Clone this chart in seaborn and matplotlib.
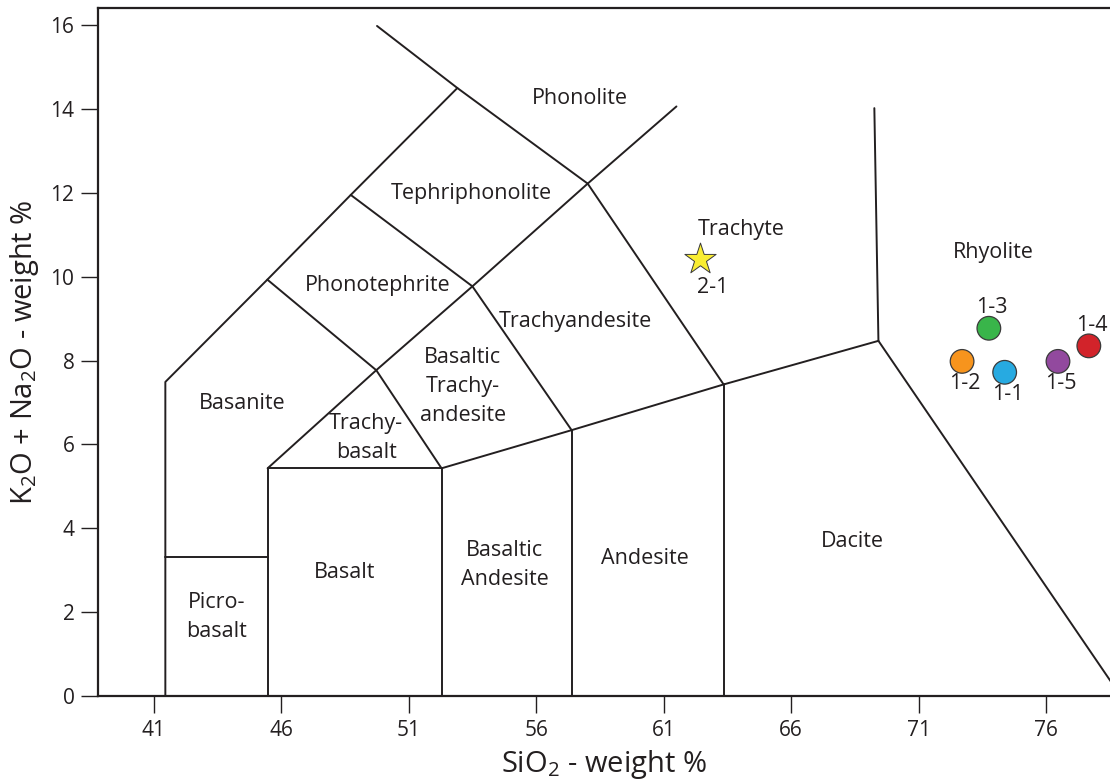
import matplotlib
matplotlib.use("Agg")
import matplotlib.pyplot as plt
import seaborn as sns
import pandas as pd

# TAS field boundaries (SiO2, Na2O+K2O)
basanite_edge = [(41.46, 0), (41.46, 7.49), (45.46, 9.93), (48.73, 11.95), (52.91, 14.50)]
phonolite_edge = [(49.76, 15.98), (52.91, 14.50), (58.02, 12.22), (61.50, 14.06)]
picro_top = [(41.46, 3.31), (45.47, 3.31)]
basalt_box = [(45.47, 0), (45.47, 5.43), (52.29, 5.43), (52.29, 0)]
subalkaline_top = [(52.29, 5.43), (57.39, 6.34), (63.35, 7.43), (69.42, 8.47), (78.92, 0)]
andesite_left = [(57.39, 0), (57.39, 6.34)]
dacite_left = [(63.35, 0), (63.35, 7.43)]
rhyolite_edge = [(69.42, 8.47), (69.26, 14.02)]
trachybasalt_roof = [(45.47, 5.43), (49.73, 7.77), (52.29, 5.43)]
phonotephrite_low = [(45.46, 9.93), (49.73, 7.77), (53.50, 9.77), (58.02, 12.22)]
tephri_low = [(48.73, 11.95), (53.50, 9.77), (57.39, 6.34)]
trachyte_edge = [(58.02, 12.22), (63.35, 7.43)]

boundaries = [basanite_edge, phonolite_edge, picro_top, basalt_box, subalkaline_top,
              andesite_left, dacite_left, rhyolite_edge, trachybasalt_roof,
              phonotephrite_low, tephri_low, trachyte_edge]

# field names and where they sit
field_names = ["Phonolite", "Tephriphonolite", "Phonotephrite", "Trachyte", "Rhyolite",
               "Trachyandesite", "Basaltic\nTrachy-\nandesite", "Basanite",
               "Trachy-\nbasalt", "Basalt", "Picro-\nbasalt", "Basaltic\nAndesite",
               "Andesite", "Dacite"]
field_x = [57.71, 53.47, 49.78, 64.02, 73.94, 57.55, 53.12, 44.49,
           49.34, 48.49, 43.47, 54.76, 60.28, 68.41]
field_y = [14.26, 11.98, 9.79, 11.12, 10.58, 8.93, 7.38, 6.98,
           6.15, 2.95, 1.89, 3.12, 3.27, 3.69]

# samples
sample_ids = ["1-1", "1-2", "1-3", "1-4", "1-5"]
sio2 = [74.37, 72.70, 73.75, 77.67, 76.46]
alkali = [7.72, 7.98, 8.77, 8.35, 7.98]
sample_colors = ["#27aae1", "#f7941d", "#39b54a", "#d2232a", "#92499e"]
label_above = [False, False, True, True, False]

star_id = "2-1"
star_sio2 = 62.44
star_alkali = 10.41

sns.set_style("ticks")
plt.rcParams["font.family"] = ["Open Sans", "DejaVu Sans"]
plt.rcParams["mathtext.default"] = "regular"
ink = "#231f20"

fig = plt.figure(figsize=(11.10, 7.82), dpi=100)
ax = fig.add_axes([0.0883, 0.110, 0.9117, 0.8804])

for line in boundaries:
    xs = [p[0] for p in line]
    ys = [p[1] for p in line]
    sns.lineplot(x=xs, y=ys, sort=False, estimator=None, color=ink, lw=1.4, ax=ax)

for name, x, y in zip(field_names, field_x, field_y):
    ax.text(x, y, name, ha="center", va="center", fontsize=15.5, color=ink, linespacing=1.5)

df = pd.DataFrame({"id": sample_ids, "sio2": sio2, "alkali": alkali})
sns.scatterplot(data=df, x="sio2", y="alkali", hue="id", palette=sample_colors,
                s=290, edgecolor="#3a3a3a", linewidth=0.9, legend=False, zorder=5, ax=ax)
for sid, x, y, up in zip(sample_ids, sio2, alkali, label_above):
    dy = 15 if up else -16
    ax.annotate(sid, (x, y), xytext=(2, dy), textcoords="offset points",
                ha="center", va="center", fontsize=15.5, color=ink)

sns.scatterplot(x=[star_sio2], y=[star_alkali], marker="*", s=560, color="#f9ed32",
                edgecolor="#3a3a3a", linewidth=0.7, zorder=5, ax=ax)
ax.annotate(star_id, (star_sio2, star_alkali), xytext=(9, -20), textcoords="offset points",
            ha="center", va="center", fontsize=15.5, color=ink)

ax.set_xlim(38.82, 78.5)
ax.set_ylim(0, 16.42)
ax.set_xticks([41, 46, 51, 56, 61, 66, 71, 76])
ax.set_yticks(range(0, 17, 2))
ax.tick_params(direction="out", length=12, width=1.0, color=ink, labelcolor=ink,
               labelsize=15, pad=5)
for side in ["left", "bottom", "top"]:
    ax.spines[side].set_color(ink)
    ax.spines[side].set_linewidth(1.6)
ax.spines["right"].set_visible(False)

ax.set_xlabel("SiO$_2$ - weight %", fontsize=21, color=ink, labelpad=5)
ax.set_ylabel("K$_2$O + Na$_2$O - weight %", fontsize=21, color=ink, labelpad=7)

fig.savefig("out.png", dpi=100)
